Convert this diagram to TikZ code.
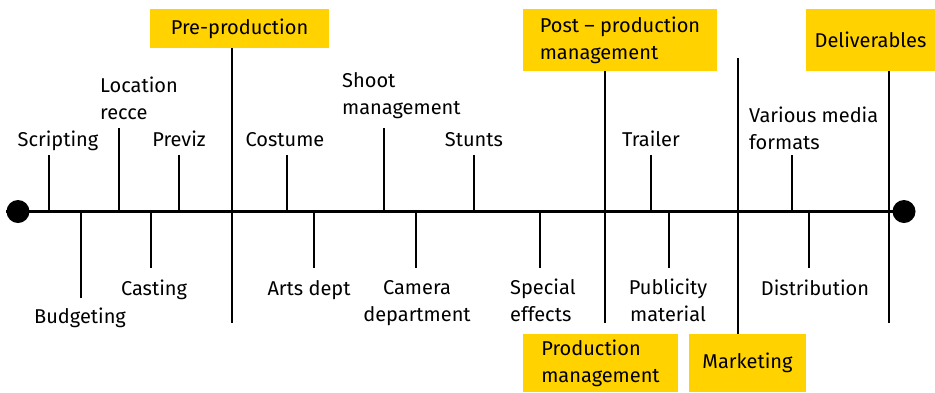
\documentclass[tikz,border=0pt]{standalone}
\usepackage{fontspec}
\setmainfont{Fira Sans}

\definecolor{phaseyellow}{RGB}{255,210,0}

\tikzset{
  axisline/.style={line width=2.2pt},
  taskline/.style={line width=1.6pt},
  phaseline/.style={line width=1.8pt},
  enddot/.style={circle, fill=black, minimum size=23pt, inner sep=0pt},
  tasktext/.style={inner sep=0pt, anchor=base, font=\fontsize{20}{26.5}\selectfont},
  phasebox/.style={fill=phaseyellow, inner sep=0pt, align=left, font=\fontsize{20}{27}\selectfont}
}

\begin{document}
\begin{tikzpicture}[x=1pt,y=-1pt]
            \useasboundingbox (0,0) rectangle (935,392);

            % Time axis
            \node[enddot] (start) at (18,211.5) {};
            \node[enddot] (finish) at (904,211.5) {};
            \draw[axisline] (start.west) -- (finish.center);

            % Phase boxes
            \node[phasebox, minimum width=179pt, minimum height=39pt] (prepro) at (239.5,28.5) {Pre-production};
            \node[phasebox, minimum width=194pt, minimum height=62pt] (postpro) at (620,40) {Post -- production\\management};
            \node[phasebox, minimum width=129pt, minimum height=62pt] (deliver) at (870.5,40) {Deliverables};
            \node[phasebox, minimum width=155pt, minimum height=58pt] (prodman) at (600.5,363) {Production\\management};
            \node[phasebox, minimum width=117pt, minimum height=58pt] (market) at (747.5,363) {Marketing};

            % Phase lines
            \coordinate (prepro-end) at (232,323);
            \draw[phaseline] (prepro-end |- prepro.south) -- (prepro-end);

            \coordinate (postpro-end) at (605,323);
            \draw[phaseline] (postpro-end |- postpro.south) -- (postpro-end);

            \coordinate (market-end) at (738,58);
            \draw[phaseline] (market-end) -- (market-end |- market.north);

            \coordinate (deliver-end) at (889,323);
            \draw[phaseline] (deliver-end |- deliver.south) -- (deliver-end);

            % Pre-production tasks
            \node[tasktext] (scripting) at (58,146) {Scripting};
            \coordinate (scripting-a) at (49,211.5);
            \coordinate (scripting-b) at (49,155);
            \draw[taskline] (scripting-a) -- (scripting-b);

            \node[tasktext] (budgeting) at (80,323) {Budgeting};
            \coordinate (budgeting-a) at (81,211.5);
            \coordinate (budgeting-b) at (81,298);
            \draw[taskline] (budgeting-a) -- (budgeting-b);

            \node[tasktext, anchor=base west, align=left] (location) at (100,119) {Location\\recce};
            \coordinate (location-a) at (119,211.5);
            \coordinate (location-b) at (119,128);
            \draw[taskline] (location-a) -- (location-b);

            \node[tasktext] (casting) at (154,295) {Casting};
            \coordinate (casting-a) at (151,211.5);
            \coordinate (casting-b) at (151,268);
            \draw[taskline] (casting-a) -- (casting-b);

            \node[tasktext] (previz) at (179,146) {Previz};
            \coordinate (previz-a) at (179,211.5);
            \coordinate (previz-b) at (179,155);
            \draw[taskline] (previz-a) -- (previz-b);

            % Production tasks
            \node[tasktext] (costume) at (285,146) {Costume};
            \coordinate (costume-a) at (287,211.5);
            \coordinate (costume-b) at (287,155);
            \draw[taskline] (costume-a) -- (costume-b);

            \node[tasktext] (arts) at (309,295) {Arts dept};
            \coordinate (arts-a) at (314,211.5);
            \coordinate (arts-b) at (314,268);
            \draw[taskline] (arts-a) -- (arts-b);

            \node[tasktext, anchor=base west, align=left] (shoot) at (342,114) {Shoot\\management};
            \coordinate (shoot-a) at (384,211.5);
            \coordinate (shoot-b) at (384,128);
            \draw[taskline] (shoot-a) -- (shoot-b);

            \node[tasktext, align=center] (camera) at (417,321) {Camera\\department};
            \coordinate (camera-a) at (416,211.5);
            \coordinate (camera-b) at (416,268);
            \draw[taskline] (camera-a) -- (camera-b);

            \node[tasktext] (stunts) at (474,146) {Stunts};
            \coordinate (stunts-a) at (474,211.5);
            \coordinate (stunts-b) at (474,155);
            \draw[taskline] (stunts-a) -- (stunts-b);

            \node[tasktext, anchor=base west, align=left] (effects) at (510,321) {Special\\effects};
            \coordinate (effects-a) at (540,211.5);
            \coordinate (effects-b) at (540,268);
            \draw[taskline] (effects-a) -- (effects-b);

            % Post-production tasks
            \node[tasktext] (trailer) at (651,146) {Trailer};
            \coordinate (trailer-a) at (651,211.5);
            \coordinate (trailer-b) at (651,155);
            \draw[taskline] (trailer-a) -- (trailer-b);

            \node[tasktext, align=center] (publicity) at (668,321) {Publicity\\material};
            \coordinate (publicity-a) at (669,211.5);
            \coordinate (publicity-b) at (669,268);
            \draw[taskline] (publicity-a) -- (publicity-b);

            % Marketing tasks
            \node[tasktext, anchor=base west, align=left] (media) at (749,149) {Various media\\formats};
            \coordinate (media-a) at (792,211.5);
            \coordinate (media-b) at (792,155);
            \draw[taskline] (media-a) -- (media-b);

            \node[tasktext] (distribution) at (815,295) {Distribution};
            \coordinate (distribution-a) at (809,211.5);
            \coordinate (distribution-b) at (809,268);
            \draw[taskline] (distribution-a) -- (distribution-b);
        \end{tikzpicture}
\end{document}
